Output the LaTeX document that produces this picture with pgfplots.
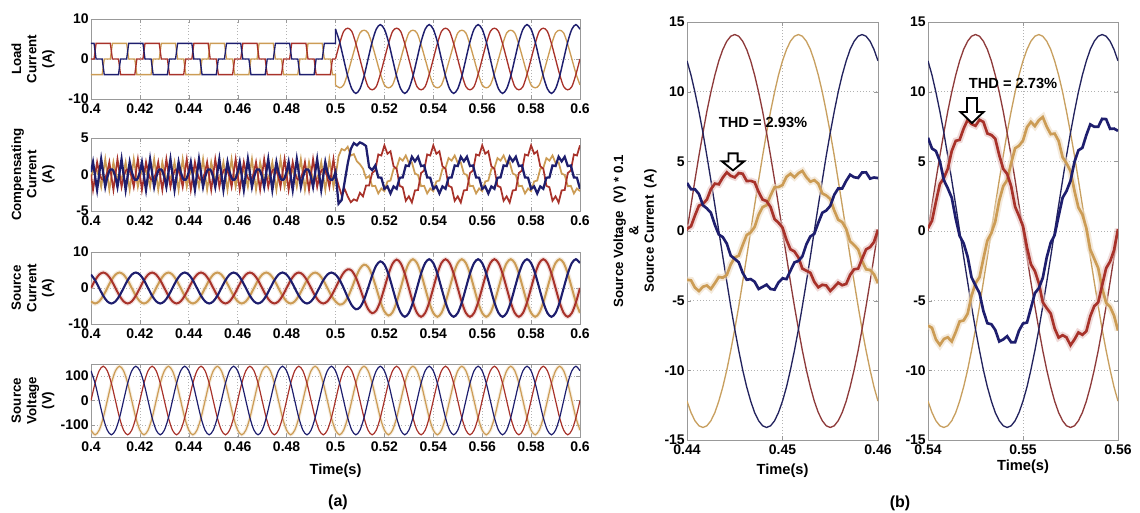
\documentclass[border=0pt]{standalone}
\usepackage{fontspec}
\setmainfont{Liberation Sans}
\usepackage{pgfplots}
\usepackage{pgfplotstable}
\pgfplotsset{compat=1.18}
\definecolor{cb}{HTML}{1E1E6E}
\definecolor{cr}{HTML}{A8322A}
\definecolor{ct}{HTML}{CC9C55}
\definecolor{vr}{HTML}{8E3B3B}
\definecolor{vt}{HTML}{C8A060}
\definecolor{vb}{HTML}{23235E}

% source voltage, source current, load current (after 0.5 s)
\pgfplotstableread{
t va vb vc sa sb sc la lb lc
0.4 0 -122 122 0 -3.72 3.72 0 0 0
0.40167 71 -141 71 2.15 -4.3 2.15 0 0 0
0.40333 122 -122 0 3.72 -3.72 0 0 0 0
0.405 141 -71 -71 4.3 -2.15 -2.15 0 0 0
0.40667 122 0 -122 3.72 0 -3.72 0 0 0
0.40833 71 71 -141 2.15 2.15 -4.3 0 0 0
0.41 0 122 -122 0 3.72 -3.72 0 0 0
0.41167 -71 141 -71 -2.15 4.3 -2.15 0 0 0
0.41333 -122 122 0 -3.72 3.72 0 0 0 0
0.415 -141 71 71 -4.3 2.15 2.15 0 0 0
0.41667 -122 0 122 -3.72 0 3.72 0 0 0
0.41833 -71 -71 141 -2.15 -2.15 4.3 0 0 0
0.42 0 -122 122 0 -3.72 3.72 0 0 0
0.42167 71 -141 71 2.15 -4.3 2.15 0 0 0
0.42333 122 -122 0 3.72 -3.72 0 0 0 0
0.425 141 -71 -71 4.3 -2.15 -2.15 0 0 0
0.42667 122 0 -122 3.72 0 -3.72 0 0 0
0.42833 71 71 -141 2.15 2.15 -4.3 0 0 0
0.43 0 122 -122 0 3.72 -3.72 0 0 0
0.43167 -71 141 -71 -2.15 4.3 -2.15 0 0 0
0.43333 -122 122 0 -3.72 3.72 0 0 0 0
0.435 -141 71 71 -4.3 2.15 2.15 0 0 0
0.43667 -122 0 122 -3.72 0 3.72 0 0 0
0.43833 -71 -71 141 -2.15 -2.15 4.3 0 0 0
0.44 0 -122 122 0 -3.72 3.72 0 0 0
0.44167 71 -141 71 2.15 -4.3 2.15 0 0 0
0.44333 122 -122 0 3.72 -3.72 0 0 0 0
0.445 141 -71 -71 4.3 -2.15 -2.15 0 0 0
0.44667 122 0 -122 3.72 0 -3.72 0 0 0
0.44833 71 71 -141 2.15 2.15 -4.3 0 0 0
0.45 0 122 -122 0 3.72 -3.72 0 0 0
0.45167 -71 141 -71 -2.15 4.3 -2.15 0 0 0
0.45333 -122 122 0 -3.72 3.72 0 0 0 0
0.455 -141 71 71 -4.3 2.15 2.15 0 0 0
0.45667 -122 0 122 -3.72 0 3.72 0 0 0
0.45833 -71 -71 141 -2.15 -2.15 4.3 0 0 0
0.46 0 -122 122 0 -3.72 3.72 0 0 0
0.46167 71 -141 71 2.15 -4.3 2.15 0 0 0
0.46333 122 -122 0 3.72 -3.72 0 0 0 0
0.465 141 -71 -71 4.3 -2.15 -2.15 0 0 0
0.46667 122 0 -122 3.72 0 -3.72 0 0 0
0.46833 71 71 -141 2.15 2.15 -4.3 0 0 0
0.47 0 122 -122 0 3.72 -3.72 0 0 0
0.47167 -71 141 -71 -2.15 4.3 -2.15 0 0 0
0.47333 -122 122 0 -3.72 3.72 0 0 0 0
0.475 -141 71 71 -4.3 2.15 2.15 0 0 0
0.47667 -122 0 122 -3.72 0 3.72 0 0 0
0.47833 -71 -71 141 -2.15 -2.15 4.3 0 0 0
0.48 0 -122 122 0 -3.72 3.72 0 0 0
0.48167 71 -141 71 2.15 -4.3 2.15 0 0 0
0.48333 122 -122 0 3.72 -3.72 0 0 0 0
0.485 141 -71 -71 4.3 -2.15 -2.15 0 0 0
0.48667 122 0 -122 3.72 0 -3.72 0 0 0
0.48833 71 71 -141 2.15 2.15 -4.3 0 0 0
0.49 0 122 -122 0 3.72 -3.72 0 0 0
0.49167 -71 141 -71 -2.15 4.3 -2.15 0 0 0
0.49333 -122 122 0 -3.72 3.72 0 0 0 0
0.495 -141 71 71 -4.3 2.15 2.15 0 0 0
0.49667 -122 0 122 -3.72 0 3.72 0 0 0
0.49833 -71 -71 141 -2.15 -2.15 4.3 0 0 0
0.5 0 -122 122 0 -3.72 3.72 0 -6.5 7.45
0.50167 71 -141 71 2.3 -4.6 2.3 3.85 -7.2 4.3
0.50333 122 -122 0 4.24 -4.24 0 6.9 -6.5 0
0.505 141 -71 -71 5.2 -2.6 -2.6 7.7 -3.6 -4.3
0.50667 122 0 -122 4.81 0 -4.81 6.9 0 -7.45
0.50833 71 71 -141 2.95 2.95 -5.9 3.85 3.6 -8.6
0.51 0 122 -122 0 5.37 -5.37 0 6.5 -7.45
0.51167 -71 141 -71 -3.25 6.5 -3.25 -3.85 7.2 -4.3
0.51333 -122 122 0 -5.85 5.85 0 -6.9 6.5 0
0.515 -141 71 71 -7 3.5 3.5 -7.7 3.6 4.3
0.51667 -122 0 122 -6.24 0 6.24 -6.9 0 7.45
0.51833 -71 -71 141 -3.7 -3.7 7.4 -3.85 -3.6 8.6
0.52 0 -122 122 0 -6.5 6.5 0 -6.5 7.45
0.52167 71 -141 71 3.83 -7.65 3.83 3.85 -7.2 4.3
0.52333 122 -122 0 6.75 -6.75 0 6.9 -6.5 0
0.525 141 -71 -71 7.9 -3.95 -3.95 7.7 -3.6 -4.3
0.52667 122 0 -122 6.88 0 -6.88 6.9 0 -7.45
0.52833 71 71 -141 4 4 -8 3.85 3.6 -8.6
0.53 0 122 -122 0 6.93 -6.93 0 6.5 -7.45
0.53167 -71 141 -71 -4 8 -4 -3.85 7.2 -4.3
0.53333 -122 122 0 -6.93 6.93 0 -6.9 6.5 0
0.535 -141 71 71 -8 4 4 -7.7 3.6 4.3
0.53667 -122 0 122 -6.93 0 6.93 -6.9 0 7.45
0.53833 -71 -71 141 -4 -4 8 -3.85 -3.6 8.6
0.54 0 -122 122 0 -6.93 6.93 0 -6.5 7.45
0.54167 71 -141 71 4 -8 4 3.85 -7.2 4.3
0.54333 122 -122 0 6.93 -6.93 0 6.9 -6.5 0
0.545 141 -71 -71 8 -4 -4 7.7 -3.6 -4.3
0.54667 122 0 -122 6.93 0 -6.93 6.9 0 -7.45
0.54833 71 71 -141 4 4 -8 3.85 3.6 -8.6
0.55 0 122 -122 0 6.93 -6.93 0 6.5 -7.45
0.55167 -71 141 -71 -4 8 -4 -3.85 7.2 -4.3
0.55333 -122 122 0 -6.93 6.93 0 -6.9 6.5 0
0.555 -141 71 71 -8 4 4 -7.7 3.6 4.3
0.55667 -122 0 122 -6.93 0 6.93 -6.9 0 7.45
0.55833 -71 -71 141 -4 -4 8 -3.85 -3.6 8.6
0.56 0 -122 122 0 -6.93 6.93 0 -6.5 7.45
0.56167 71 -141 71 4 -8 4 3.85 -7.2 4.3
0.56333 122 -122 0 6.93 -6.93 0 6.9 -6.5 0
0.565 141 -71 -71 8 -4 -4 7.7 -3.6 -4.3
0.56667 122 0 -122 6.93 0 -6.93 6.9 0 -7.45
0.56833 71 71 -141 4 4 -8 3.85 3.6 -8.6
0.57 0 122 -122 0 6.93 -6.93 0 6.5 -7.45
0.57167 -71 141 -71 -4 8 -4 -3.85 7.2 -4.3
0.57333 -122 122 0 -6.93 6.93 0 -6.9 6.5 0
0.575 -141 71 71 -8 4 4 -7.7 3.6 4.3
0.57667 -122 0 122 -6.93 0 6.93 -6.9 0 7.45
0.57833 -71 -71 141 -4 -4 8 -3.85 -3.6 8.6
0.58 0 -122 122 0 -6.93 6.93 0 -6.5 7.45
0.58167 71 -141 71 4 -8 4 3.85 -7.2 4.3
0.58333 122 -122 0 6.93 -6.93 0 6.9 -6.5 0
0.585 141 -71 -71 8 -4 -4 7.7 -3.6 -4.3
0.58667 122 0 -122 6.93 0 -6.93 6.9 0 -7.45
0.58833 71 71 -141 4 4 -8 3.85 3.6 -8.6
0.59 0 122 -122 0 6.93 -6.93 0 6.5 -7.45
0.59167 -71 141 -71 -4 8 -4 -3.85 7.2 -4.3
0.59333 -122 122 0 -6.93 6.93 0 -6.9 6.5 0
0.595 -141 71 71 -8 4 4 -7.7 3.6 4.3
0.59667 -122 0 122 -6.93 0 6.93 -6.9 0 7.45
0.59833 -71 -71 141 -4 -4 8 -3.85 -3.6 8.6
0.6 0 -122 122 0 -6.93 6.93 0 -6.5 7.45
}\TT

% load current before 0.5 s (six-step)
\pgfplotstableread{
t a b c
0.4 0 -3.9 3.9
0.40125 0 -3.9 3.9
0.40208 3.9 -3.9 0
0.40458 3.9 -3.9 0
0.40542 3.9 0 -3.9
0.40792 3.9 0 -3.9
0.40875 0 3.9 -3.9
0.41125 0 3.9 -3.9
0.41208 -3.9 3.9 0
0.41458 -3.9 3.9 0
0.41542 -3.9 0 3.9
0.41792 -3.9 0 3.9
0.41875 0 -3.9 3.9
0.42125 0 -3.9 3.9
0.42208 3.9 -3.9 0
0.42458 3.9 -3.9 0
0.42542 3.9 0 -3.9
0.42792 3.9 0 -3.9
0.42875 0 3.9 -3.9
0.43125 0 3.9 -3.9
0.43208 -3.9 3.9 0
0.43458 -3.9 3.9 0
0.43542 -3.9 0 3.9
0.43792 -3.9 0 3.9
0.43875 0 -3.9 3.9
0.44125 0 -3.9 3.9
0.44208 3.9 -3.9 0
0.44458 3.9 -3.9 0
0.44542 3.9 0 -3.9
0.44792 3.9 0 -3.9
0.44875 0 3.9 -3.9
0.45125 0 3.9 -3.9
0.45208 -3.9 3.9 0
0.45458 -3.9 3.9 0
0.45542 -3.9 0 3.9
0.45792 -3.9 0 3.9
0.45875 0 -3.9 3.9
0.46125 0 -3.9 3.9
0.46208 3.9 -3.9 0
0.46458 3.9 -3.9 0
0.46542 3.9 0 -3.9
0.46792 3.9 0 -3.9
0.46875 0 3.9 -3.9
0.47125 0 3.9 -3.9
0.47208 -3.9 3.9 0
0.47458 -3.9 3.9 0
0.47542 -3.9 0 3.9
0.47792 -3.9 0 3.9
0.47875 0 -3.9 3.9
0.48125 0 -3.9 3.9
0.48208 3.9 -3.9 0
0.48458 3.9 -3.9 0
0.48542 3.9 0 -3.9
0.48792 3.9 0 -3.9
0.48875 0 3.9 -3.9
0.49125 0 3.9 -3.9
0.49208 -3.9 3.9 0
0.49458 -3.9 3.9 0
0.49542 -3.9 0 3.9
0.49792 -3.9 0 3.9
0.49875 0 -3.9 3.9
0.5 0 -3.9 3.9
0.5 0 -6.5 7.45
}\LQ

% compensating current
\pgfplotstableread{
t a b c
0.4 0 -0.35 0.35
0.40083 -2.1 0.5 1.7
0.40125 -1.2 0.7 0.8
0.40208 0.8 0.7 -1.2
0.4025 1.7 0.5 -2.1
0.40333 0.35 -0.35 0
0.40417 -0.5 -1.7 2.1
0.40458 -0.7 -0.8 1.2
0.40542 -0.7 1.2 -0.8
0.40583 -0.5 2.1 -1.7
0.40667 0.35 0 -0.35
0.4075 1.7 -2.1 0.5
0.40792 0.8 -1.2 0.7
0.40875 -1.2 0.8 0.7
0.40917 -2.1 1.7 0.5
0.41 0 0.35 -0.35
0.41083 2.1 -0.5 -1.7
0.41125 1.2 -0.7 -0.8
0.41208 -0.8 -0.7 1.2
0.4125 -1.7 -0.5 2.1
0.41333 -0.35 0.35 0
0.41417 0.5 1.7 -2.1
0.41458 0.7 0.8 -1.2
0.41542 0.7 -1.2 0.8
0.41583 0.5 -2.1 1.7
0.41667 -0.35 0 0.35
0.4175 -1.7 2.1 -0.5
0.41792 -0.8 1.2 -0.7
0.41875 1.2 -0.8 -0.7
0.41917 2.1 -1.7 -0.5
0.42 0 -0.35 0.35
0.42083 -2.1 0.5 1.7
0.42125 -1.2 0.7 0.8
0.42208 0.8 0.7 -1.2
0.4225 1.7 0.5 -2.1
0.42333 0.35 -0.35 0
0.42417 -0.5 -1.7 2.1
0.42458 -0.7 -0.8 1.2
0.42542 -0.7 1.2 -0.8
0.42583 -0.5 2.1 -1.7
0.42667 0.35 0 -0.35
0.4275 1.7 -2.1 0.5
0.42792 0.8 -1.2 0.7
0.42875 -1.2 0.8 0.7
0.42917 -2.1 1.7 0.5
0.43 0 0.35 -0.35
0.43083 2.1 -0.5 -1.7
0.43125 1.2 -0.7 -0.8
0.43208 -0.8 -0.7 1.2
0.4325 -1.7 -0.5 2.1
0.43333 -0.35 0.35 0
0.43417 0.5 1.7 -2.1
0.43458 0.7 0.8 -1.2
0.43542 0.7 -1.2 0.8
0.43583 0.5 -2.1 1.7
0.43667 -0.35 0 0.35
0.4375 -1.7 2.1 -0.5
0.43792 -0.8 1.2 -0.7
0.43875 1.2 -0.8 -0.7
0.43917 2.1 -1.7 -0.5
0.44 0 -0.35 0.35
0.44083 -2.1 0.5 1.7
0.44125 -1.2 0.7 0.8
0.44208 0.8 0.7 -1.2
0.4425 1.7 0.5 -2.1
0.44333 0.35 -0.35 0
0.44417 -0.5 -1.7 2.1
0.44458 -0.7 -0.8 1.2
0.44542 -0.7 1.2 -0.8
0.44583 -0.5 2.1 -1.7
0.44667 0.35 0 -0.35
0.4475 1.7 -2.1 0.5
0.44792 0.8 -1.2 0.7
0.44875 -1.2 0.8 0.7
0.44917 -2.1 1.7 0.5
0.45 0 0.35 -0.35
0.45083 2.1 -0.5 -1.7
0.45125 1.2 -0.7 -0.8
0.45208 -0.8 -0.7 1.2
0.4525 -1.7 -0.5 2.1
0.45333 -0.35 0.35 0
0.45417 0.5 1.7 -2.1
0.45458 0.7 0.8 -1.2
0.45542 0.7 -1.2 0.8
0.45583 0.5 -2.1 1.7
0.45667 -0.35 0 0.35
0.4575 -1.7 2.1 -0.5
0.45792 -0.8 1.2 -0.7
0.45875 1.2 -0.8 -0.7
0.45917 2.1 -1.7 -0.5
0.46 0 -0.35 0.35
0.46083 -2.1 0.5 1.7
0.46125 -1.2 0.7 0.8
0.46208 0.8 0.7 -1.2
0.4625 1.7 0.5 -2.1
0.46333 0.35 -0.35 0
0.46417 -0.5 -1.7 2.1
0.46458 -0.7 -0.8 1.2
0.46542 -0.7 1.2 -0.8
0.46583 -0.5 2.1 -1.7
0.46667 0.35 0 -0.35
0.4675 1.7 -2.1 0.5
0.46792 0.8 -1.2 0.7
0.46875 -1.2 0.8 0.7
0.46917 -2.1 1.7 0.5
0.47 0 0.35 -0.35
0.47083 2.1 -0.5 -1.7
0.47125 1.2 -0.7 -0.8
0.47208 -0.8 -0.7 1.2
0.4725 -1.7 -0.5 2.1
0.47333 -0.35 0.35 0
0.47417 0.5 1.7 -2.1
0.47458 0.7 0.8 -1.2
0.47542 0.7 -1.2 0.8
0.47583 0.5 -2.1 1.7
0.47667 -0.35 0 0.35
0.4775 -1.7 2.1 -0.5
0.47792 -0.8 1.2 -0.7
0.47875 1.2 -0.8 -0.7
0.47917 2.1 -1.7 -0.5
0.48 0 -0.35 0.35
0.48083 -2.1 0.5 1.7
0.48125 -1.2 0.7 0.8
0.48208 0.8 0.7 -1.2
0.4825 1.7 0.5 -2.1
0.48333 0.35 -0.35 0
0.48417 -0.5 -1.7 2.1
0.48458 -0.7 -0.8 1.2
0.48542 -0.7 1.2 -0.8
0.48583 -0.5 2.1 -1.7
0.48667 0.35 0 -0.35
0.4875 1.7 -2.1 0.5
0.48792 0.8 -1.2 0.7
0.48875 -1.2 0.8 0.7
0.48917 -2.1 1.7 0.5
0.49 0 0.35 -0.35
0.49083 2.1 -0.5 -1.7
0.49125 1.2 -0.7 -0.8
0.49208 -0.8 -0.7 1.2
0.4925 -1.7 -0.5 2.1
0.49333 -0.35 0.35 0
0.49417 0.5 1.7 -2.1
0.49458 0.7 0.8 -1.2
0.49542 0.7 -1.2 0.8
0.49583 0.5 -2.1 1.7
0.49667 -0.35 0 0.35
0.4975 -1.7 2.1 -0.5
0.49792 -0.8 1.2 -0.7
0.49875 1.2 -0.8 -0.7
0.49917 2.1 -1.7 -0.5
0.5 0 -0.35 0.35
0.50125 -1.5 2.5 -4.0
0.5025 -2.8 3.5 -3.5
0.50375 -2.0 3.3 -1.0
0.505 -3.0 3.8 1.5
0.50625 -3.8 2.6 3.5
0.5075 -3.4 2.8 4.3
0.50875 -3.6 1.8 4.0
0.51 -2.5 1.4 4.4
0.51125 -3.0 0.8 4.2
0.5125 -1.5 -0.5 3.9
0.51375 -1.5 -0.2 1.0
0.515 0.2 -1.6 0.6
0.51625 0.55 -1.55 1.24
0.5175 2.75 -2.6 -0.4
0.51875 2.6 -1.91 -0.44
0.52 3.99 -2.28 -1.96
0.52125 2.84 -0.95 -1.63
0.5225 3.18 -0.83 -2.6
0.52375 1.12 0.77 -1.63
0.525 0.8 0.9 -1.96
0.52625 -1.55 2.25 -0.44
0.5275 -1.75 1.9 -0.4
0.52875 -3.6 2.61 1.24
0.53 -2.99 1.58 1.16
0.53125 -3.84 1.65 2.43
0.5325 -2.18 0.13 1.8
0.53375 -2.12 -0.07 2.43
0.535 0.2 -1.6 1.16
0.53625 0.55 -1.55 1.24
0.5375 2.75 -2.6 -0.4
0.53875 2.6 -1.91 -0.44
0.54 3.99 -2.28 -1.96
0.54125 2.84 -0.95 -1.63
0.5425 3.18 -0.83 -2.6
0.54375 1.12 0.77 -1.63
0.545 0.8 0.9 -1.96
0.54625 -1.55 2.25 -0.44
0.5475 -1.75 1.9 -0.4
0.54875 -3.6 2.61 1.24
0.55 -2.99 1.58 1.16
0.55125 -3.84 1.65 2.43
0.5525 -2.18 0.13 1.8
0.55375 -2.12 -0.07 2.43
0.555 0.2 -1.6 1.16
0.55625 0.55 -1.55 1.24
0.5575 2.75 -2.6 -0.4
0.55875 2.6 -1.91 -0.44
0.56 3.99 -2.28 -1.96
0.56125 2.84 -0.95 -1.63
0.5625 3.18 -0.83 -2.6
0.56375 1.12 0.77 -1.63
0.565 0.8 0.9 -1.96
0.56625 -1.55 2.25 -0.44
0.5675 -1.75 1.9 -0.4
0.56875 -3.6 2.61 1.24
0.57 -2.99 1.58 1.16
0.57125 -3.84 1.65 2.43
0.5725 -2.18 0.13 1.8
0.57375 -2.12 -0.07 2.43
0.575 0.2 -1.6 1.16
0.57625 0.55 -1.55 1.24
0.5775 2.75 -2.6 -0.4
0.57875 2.6 -1.91 -0.44
0.58 3.99 -2.28 -1.96
0.58125 2.84 -0.95 -1.63
0.5825 3.18 -0.83 -2.6
0.58375 1.12 0.77 -1.63
0.585 0.8 0.9 -1.96
0.58625 -1.55 2.25 -0.44
0.5875 -1.75 1.9 -0.4
0.58875 -3.6 2.61 1.24
0.59 -2.99 1.58 1.16
0.59125 -3.84 1.65 2.43
0.5925 -2.18 0.13 1.8
0.59375 -2.12 -0.07 2.43
0.595 0.2 -1.6 1.16
0.59625 0.55 -1.55 1.24
0.5975 2.75 -2.6 -0.4
0.59875 2.6 -1.91 -0.44
0.6 3.99 -2.28 -1.96
}\CC

% zoom 0.44-0.46: voltage*0.1 and source current
\pgfplotstableread{
t va vb vc ia ib ic
0.44 0 -12.21 12.21 0.15 -3.50 3.45
0.44042 1.84 -13.03 11.19 0.34 -3.54 3.00
0.44083 3.65 -13.62 9.97 1.11 -4.06 3.00
0.44125 5.40 -13.98 8.58 1.82 -4.31 2.65
0.44167 7.05 -14.1 7.05 1.95 -4.00 1.85
0.44208 8.58 -13.98 5.40 2.25 -3.91 1.62
0.4425 9.97 -13.62 3.65 3.00 -4.16 1.31
0.44292 11.19 -13.03 1.84 3.40 -3.74 0.44
0.44333 12.21 -12.21 0 3.35 -3.30 -0.25
0.44375 13.03 -11.19 -1.84 3.84 -3.35 -0.44
0.44417 13.62 -9.97 -3.65 4.21 -3.15 -0.91
0.44458 13.98 -8.58 -5.40 3.96 -2.40 -1.77
0.445 14.1 -7.05 -7.05 3.85 -1.90 -2.00
0.44542 13.98 -5.40 -8.58 4.16 -1.77 -2.25
0.44583 13.62 -3.65 -9.97 4.11 -1.01 -3.00
0.44625 13.03 -1.84 -11.19 3.59 -0.29 -3.50
0.44667 12.21 0 -12.21 3.60 -0.10 -3.45
0.44708 11.19 1.84 -13.03 3.50 0.29 -3.64
0.4475 9.97 3.65 -13.62 2.80 1.16 -4.16
0.44792 8.58 5.40 -13.98 2.25 1.72 -4.01
0.44833 7.05 7.05 -14.1 2.15 1.85 -3.85
0.44875 5.40 8.58 -13.98 1.72 2.55 -4.16
0.44917 3.65 9.97 -13.62 0.86 3.15 -4.21
0.44958 1.84 11.19 -13.03 0.59 3.15 -3.69
0.45 0 12.21 -12.21 0.25 3.30 -3.40
0.45042 -1.84 13.03 -11.19 -0.64 3.89 -3.45
0.45083 -3.65 13.62 -9.97 -1.31 4.11 -2.85
0.45125 -5.40 13.98 -8.58 -1.47 3.86 -2.25
0.45167 -7.05 14.1 -7.05 -1.90 4.15 -2.15
0.45208 -8.58 13.98 -5.40 -2.70 4.31 -1.82
0.4525 -9.97 13.62 -3.65 -2.85 3.86 -0.96
0.45292 -11.19 13.03 -1.84 -3.00 3.54 -0.39
0.45333 -12.21 12.21 0 -3.65 3.65 -0.20
0.45375 -13.03 11.19 1.84 -4.04 3.40 0.59
0.45417 -13.62 9.97 3.65 -3.86 2.70 1.31
0.45458 -13.98 8.58 5.40 -3.91 2.55 1.47
0.455 -14.1 7.05 7.05 -4.30 2.30 1.80
0.45542 -13.98 5.40 8.58 -4.01 1.47 2.60
0.45583 -13.62 3.65 9.97 -3.71 0.81 3.05
0.45625 -13.03 1.84 11.19 -3.89 0.64 3.05
0.45667 -12.21 0 12.21 -3.80 0.15 3.60
0.45708 -11.19 -1.84 13.03 -3.15 -0.74 4.04
0.4575 -9.97 -3.65 13.62 -2.75 -1.01 3.86
0.45792 -8.58 -5.40 13.98 -2.70 -1.32 3.81
0.45833 -7.05 -7.05 14.1 -2.00 -2.15 4.20
0.45875 -5.40 -8.58 13.98 -1.32 -2.75 4.21
0.45917 -3.65 -9.97 13.62 -1.16 -2.80 3.76
0.45958 -1.84 -11.19 13.03 -0.79 -3.10 3.84
0.46 0 -12.21 12.21 0.10 -3.75 3.80
}\BA

% zoom 0.54-0.56
\pgfplotstableread{
t va vb vc ia ib ic
0.54 0 -12.21 12.21 0.2 -6.79 6.69
0.54042 1.84 -13.03 11.19 0.73 -6.95 5.92
0.54083 3.65 -13.62 9.97 2.09 -7.78 5.74
0.54125 5.40 -13.98 8.58 3.37 -8.18 5.01
0.54167 7.05 -14.1 7.05 3.80 -7.75 3.65
0.54208 8.58 -13.98 5.40 4.46 -7.63 3.07
0.5425 9.97 -13.62 3.65 5.74 -7.93 2.39
0.54292 11.19 -13.03 1.84 6.47 -7.25 0.88
0.54333 12.21 -12.21 0 6.54 -6.49 -0.35
0.54375 13.03 -11.19 -1.84 7.35 -6.42 -0.88
0.54417 13.62 -9.97 -3.65 7.98 -5.94 -1.84
0.54458 13.98 -8.58 -5.40 7.68 -4.66 -3.32
0.545 14.1 -7.05 -7.05 7.55 -3.75 -3.90
0.54542 13.98 -5.40 -8.58 7.98 -3.32 -4.46
0.54583 13.62 -3.65 -9.97 7.83 -1.99 -5.74
0.54625 13.03 -1.84 -11.19 7.00 -0.68 -6.62
0.54667 12.21 0 -12.21 6.89 -0.15 -6.69
0.54708 11.19 1.84 -13.03 6.62 0.68 -7.10
0.5475 9.97 3.65 -13.62 5.44 2.19 -7.93
0.54792 8.58 5.40 -13.98 4.46 3.22 -7.78
0.54833 7.05 7.05 -14.1 4.10 3.65 -7.55
0.54875 5.40 8.58 -13.98 3.22 4.86 -7.98
0.54917 3.65 9.97 -13.62 1.74 5.94 -7.98
0.54958 1.84 11.19 -13.03 1.08 6.12 -7.15
0.55 0 12.21 -12.21 0.35 6.49 -6.64
0.55042 -1.84 13.03 -11.19 -1.18 7.45 -6.57
0.55083 -3.65 13.62 -9.97 -2.39 7.83 -5.54
0.55125 -5.40 13.98 -8.58 -2.87 7.53 -4.46
0.55167 -7.05 14.1 -7.05 -3.75 7.95 -4.10
0.55208 -8.58 13.98 -5.40 -5.11 8.18 -3.37
0.5525 -9.97 13.62 -3.65 -5.54 7.48 -1.89
0.55292 -11.19 13.03 -1.84 -5.92 6.95 -0.83
0.55333 -12.21 12.21 0 -6.99 6.99 -0.30
0.55375 -13.03 11.19 1.84 -7.65 6.47 1.08
0.55417 -13.62 9.97 3.65 -7.48 5.29 2.39
0.55458 -13.98 8.58 5.40 -7.63 4.86 2.87
0.555 -14.1 7.05 7.05 -8.20 4.30 3.60
0.55542 -13.98 5.40 8.58 -7.78 2.87 4.96
0.55583 -13.62 3.65 9.97 -7.28 1.69 5.79
0.55625 -13.03 1.84 11.19 -7.45 1.18 5.97
0.55667 -12.21 0 12.21 -7.19 0.20 6.89
0.55708 -11.19 -1.84 13.03 -6.12 -1.33 7.65
0.5575 -9.97 -3.65 13.62 -5.39 -1.99 7.48
0.55792 -8.58 -5.40 13.98 -5.11 -2.67 7.48
0.55833 -7.05 -7.05 14.1 -3.90 -4.10 8.05
0.55875 -5.40 -8.58 13.98 -2.67 -5.16 8.03
0.55917 -3.65 -9.97 13.62 -2.19 -5.44 7.33
0.55958 -1.84 -11.19 13.03 -1.38 -6.07 7.35
0.56 0 -12.21 12.21 0.15 -7.14 7.19
}\BB

\pgfplotsset{
  base/.style={scale only axis, anchor=north west,
    axis line style={gray!80}, tick style={gray!80},
    major tick length=3pt, tick align=inside,
    grid=major, major grid style={gray!60, dotted, line width=0.5pt},
    tick label style={font=\fontsize{10.5}{12}\selectfont\bfseries, black},
    yticklabel style={inner xsep=1.5pt},
    ylabel style={at={(axis description cs:-0.1186,0.5)}, anchor=center,
      align=center, font=\fontsize{10}{11.5}\selectfont\bfseries},
    xlabel style={font=\fontsize{11}{13}\selectfont\bfseries, anchor=center}},
  lefta/.style={base, width=366.75pt, xmin=0.4, xmax=0.6,
    xtick={0.4,0.42,0.44,0.46,0.48,0.5,0.52,0.54,0.56,0.58,0.6},
    xticklabels={0.4,0.42,0.44,0.46,0.48,0.5,0.52,0.54,0.56,0.58,0.6}},
  zoomb/.style={base, width=143.25pt, height=313.5pt, ymin=-15, ymax=15,
    ytick={-15,-10,-5,0,5,10,15}, yticklabels={-15,-10,-5,0,5,10,15},
    xlabel={Time(s)}},
}

\begin{document}
\begin{tikzpicture}

% ---------- Load current ----------
\begin{axis}[lefta, at={(68.25pt,-14.25pt)}, height=60pt,
  ymin=-10, ymax=10, ytick={-10,0,10}, yticklabels={-10,0,10},
  ylabel={Load\\Current\\(A)}]
\addplot[ct, line width=1pt] table[x=t,y=b]{\LQ};
\addplot[cr, line width=1pt] table[x=t,y=a]{\LQ};
\addplot[cb, line width=1pt] table[x=t,y=c]{\LQ};
\addplot[ct, line width=1pt, smooth, restrict x to domain=0.5:0.6] table[x=t,y=lb]{\TT};
\addplot[cr, line width=1pt, smooth, restrict x to domain=0.5:0.6] table[x=t,y=la]{\TT};
\addplot[cb, line width=1.1pt, smooth, restrict x to domain=0.5:0.6] table[x=t,y=lc]{\TT};
\end{axis}

% ---------- Compensating current ----------
\begin{axis}[lefta, at={(68.25pt,-103.5pt)}, height=54.75pt,
  ymin=-5, ymax=5, ytick={-5,0,5}, yticklabels={-5,0,5},
  ylabel={Compensating\\Current\\(A)}]
\addplot[ct, line width=1.3pt] table[x=t,y=b]{\CC};
\addplot[cr, line width=1.3pt] table[x=t,y=a]{\CC};
\addplot[cb, line width=1.7pt] table[x=t,y=c]{\CC};
\end{axis}

% ---------- Source current ----------
\begin{axis}[lefta, at={(68.25pt,-189pt)}, height=54pt,
  ymin=-10, ymax=10, ytick={-10,0,10}, yticklabels={-10,0,10},
  ylabel={Source\\Current\\(A)}]
\addplot[ct!35, line width=3.5pt, opacity=0.5, smooth] table[x=t,y=sb]{\TT};
\addplot[cr!30, line width=3.5pt, opacity=0.5, smooth] table[x=t,y=sa]{\TT};
\addplot[ct, line width=1.5pt, smooth] table[x=t,y=sb]{\TT};
\addplot[cr, line width=1.5pt, smooth] table[x=t,y=sa]{\TT};
\addplot[cb, line width=1.6pt, smooth] table[x=t,y=sc]{\TT};
\end{axis}

% ---------- Source voltage ----------
\begin{axis}[lefta, at={(68.25pt,-273pt)}, height=54.75pt,
  ymin=-150, ymax=150, ytick={-100,0,100}, yticklabels={-100,0,100},
  ylabel={Source\\Voltage\\(V)}, xlabel={Time(s)},
  xlabel style={at={(axis description cs:0.5,-0.466)}}]
\addplot[ct!35, line width=2.5pt, opacity=0.5, smooth] table[x=t,y=vb]{\TT};
\addplot[ct, line width=0.9pt, smooth] table[x=t,y=vb]{\TT};
\addplot[cr, line width=0.9pt, smooth] table[x=t,y=va]{\TT};
\addplot[cb, line width=0.9pt, smooth] table[x=t,y=vc]{\TT};
\end{axis}

% ---------- zoom 0.44-0.46 ----------
\begin{axis}[zoomb, at={(515.25pt,-16.5pt)},
  xmin=0.44, xmax=0.46, xtick={0.44,0.45,0.46}, xticklabels={0.44,0.45,0.46},
  ylabel={Source Voltage\ \ (V) * 0.1\\\&\\Source Current\ \ (A)},
  ylabel style={at={(axis description cs:-0.272,0.5)}},
  xlabel style={at={(axis description cs:0.5,-0.0742)}}]
\addplot[vt, line width=1pt] table[x=t,y=vb]{\BA};
\addplot[vr, line width=1pt] table[x=t,y=va]{\BA};
\addplot[vb, line width=1pt] table[x=t,y=vc]{\BA};
\addplot[ct!35, line width=5pt, opacity=0.6] table[x=t,y=ib]{\BA};
\addplot[cr!30, line width=5pt, opacity=0.6] table[x=t,y=ia]{\BA};
\addplot[ct, line width=2pt] table[x=t,y=ib]{\BA};
\addplot[cr, line width=2pt] table[x=t,y=ia]{\BA};
\addplot[cb, line width=2pt] table[x=t,y=ic]{\BA};
\node[font=\fontsize{11}{13}\selectfont\bfseries] at (axis cs:0.44796,7.8) {THD = 2.93\%};
\draw[line width=1.4pt, fill=white] (axis cs:0.44482,4.35) -- +(-8.25pt,6.75pt) -- +(-3.4pt,6.75pt) -- +(-3.4pt,12.75pt) -- +(3.4pt,12.75pt) -- +(3.4pt,6.75pt) -- +(8.25pt,6.75pt) -- cycle;
\end{axis}

% ---------- zoom 0.54-0.56 ----------
\begin{axis}[zoomb, at={(696pt,-16.5pt)}, width=142.5pt,
  xmin=0.54, xmax=0.56, xtick={0.54,0.55,0.56}, xticklabels={0.54,0.55,0.56},
  xlabel style={at={(axis description cs:0.5,-0.0646)}}]
\addplot[vt, line width=1pt] table[x=t,y=vb]{\BB};
\addplot[vr, line width=1pt] table[x=t,y=va]{\BB};
\addplot[vb, line width=1pt] table[x=t,y=vc]{\BB};
\addplot[ct!35, line width=5pt, opacity=0.6] table[x=t,y=ib]{\BB};
\addplot[cr!30, line width=5pt, opacity=0.6] table[x=t,y=ia]{\BB};
\addplot[ct, line width=2pt] table[x=t,y=ib]{\BB};
\addplot[cr, line width=2pt] table[x=t,y=ia]{\BB};
\addplot[cb, line width=2pt] table[x=t,y=ic]{\BB};
\node[font=\fontsize{11}{13}\selectfont\bfseries] at (axis cs:0.54895,10.6) {THD = 2.73\%};
\draw[line width=1.4pt, fill=white] (axis cs:0.54463,7.75) -- +(-8.6pt,8.25pt) -- +(-3.75pt,8.25pt) -- +(-3.75pt,18.75pt) -- +(3.75pt,18.75pt) -- +(3.75pt,8.25pt) -- +(8.6pt,8.25pt) -- cycle;
\end{axis}

\node[font=\fontsize{12}{14}\selectfont\bfseries] at (253.5pt,-376.5pt) {(a)};
\node[font=\fontsize{12}{14}\selectfont\bfseries] at (675pt,-377.25pt) {(b)};

\pgfresetboundingbox
\path (0,0) rectangle (855pt,-384pt);
\end{tikzpicture}
\end{document}
